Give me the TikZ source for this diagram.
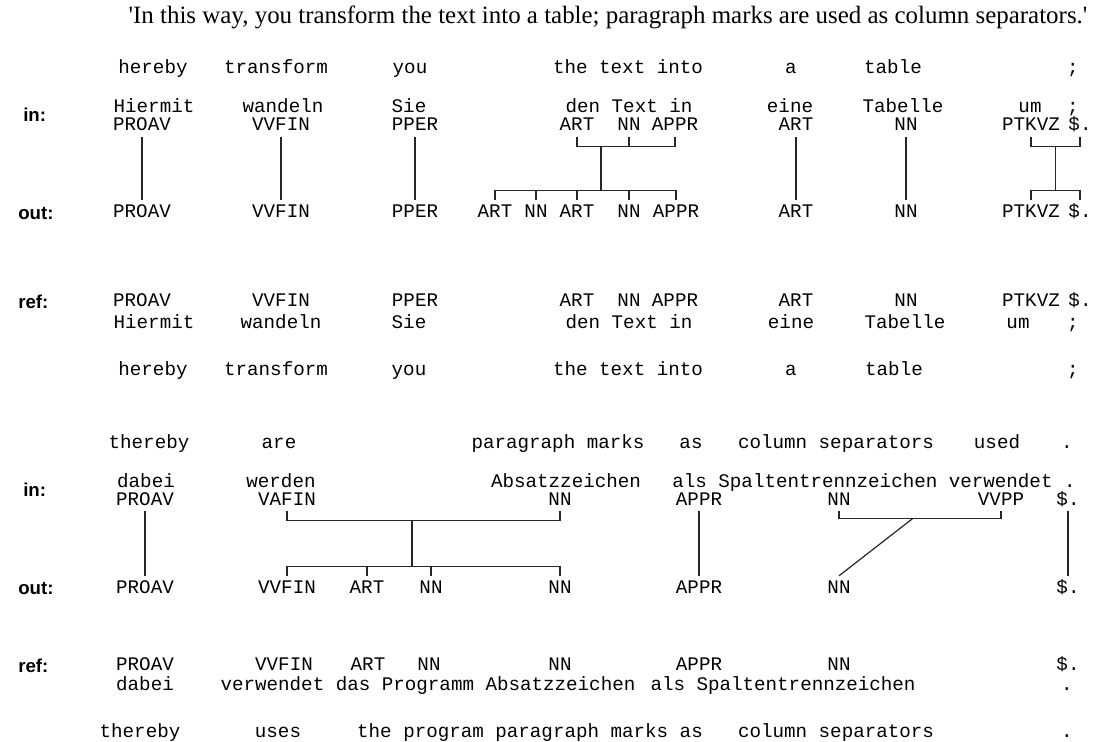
\documentclass[tikz,border=0pt]{standalone}
\usepackage{fontspec}
\setmainfont{Liberation Serif}
\setsansfont{Liberation Sans}
\setmonofont{Liberation Mono}
\usetikzlibrary{positioning,calc}

\tikzset{
  px/.style={x=0.75pt,y=-0.75pt},
  word/.style={font=\ttfamily\fontsize{14.4}{16}\selectfont,anchor=base,inner sep=0pt},
  tag/.style={word,text height=8.2pt,text depth=0pt,inner ysep=4.5pt},
  rowlabel/.style={font=\sffamily\bfseries\fontsize{14}{16}\selectfont,anchor=base west,inner sep=0pt},
  link/.style={line width=0.9pt,black!85},
}

\begin{document}
\begin{tikzpicture}[px]
  \useasboundingbox (0,0) rectangle (1111,742);
  % title
  \node[font=\fontsize{18.7}{20}\selectfont] (title) at (608,17)
    {\textquotesingle In this way, you transform the text into a table; paragraph marks are used as column separators.\textquotesingle};

  % ---------- first sentence ----------
  \node[rowlabel] (aIn)  at (23,122) {in:};
  \node[rowlabel] (aOut) at (18,219) {out:};
  \node[rowlabel] (aRef) at (18,308) {ref:};
  % english gloss
  \node[word] (aeHereby)    at (153,74) {hereby};
  \node[word] (aeTransform) at (276,74) {transform};
  \node[word] (aeYou)       at (410,74) {you};
  \node[word] (aeText)      at (628,74) {the text into};
  \node[word] (aeA)         at (791,74) {a};
  \node[word] (aeTable)     at (893,74) {table};
  \node[word] (aeSemi)      at (1073,74) {;};
  % german input
  \node[word] (agHiermit) at (154,113) {Hiermit};
  \node[word] (agWandeln) at (283,113) {wandeln};
  \node[word] (agSie)     at (409,113) {Sie};
  \node[word] (agText)    at (629,113) {den Text in};
  \node[word] (agEine)    at (790,113) {eine};
  \node[word] (agTabelle) at (903,113) {Tabelle};
  \node[word] (agUm)      at (1030,113) {um};
  \node[word] (agSemi)    at (1073,113) {;};
  % in tags
  \node[tag] (aiPROAV) at (142,131) {PROAV};
  \node[tag] (aiVVFIN) at (281,131) {VVFIN};
  \node[tag] (aiPPER)  at (415,131) {PPER};
  \node[tag] (aiART)   at (577,131) {ART};
  \node[tag] (aiNN)    at (629,131) {NN};
  \node[tag] (aiAPPR)  at (675,131) {APPR};
  \node[tag] (aiARTb)  at (796,131) {ART};
  \node[tag] (aiNNb)   at (906,131) {NN};
  \node[tag] (aiPTKVZ) at (1031,131) {PTKVZ};
  \node[tag] (aiPunct) at (1080,131) {\$.};
  % out tags
  \node[tag] (aoPROAV) at (142,217) {PROAV};
  \node[tag] (aoVVFIN) at (281,217) {VVFIN};
  \node[tag] (aoPPER)  at (415,217) {PPER};
  \node[tag] (aoART)   at (495,217) {ART};
  \node[tag] (aoNN)    at (536,217) {NN};
  \node[tag] (aoARTb)  at (577,217) {ART};
  \node[tag] (aoNNb)   at (629,217) {NN};
  \node[tag] (aoAPPR)  at (676,217) {APPR};
  \node[tag] (aoARTc)  at (796,217) {ART};
  \node[tag] (aoNNc)   at (906,217) {NN};
  \node[tag] (aoPTKVZ) at (1031,217) {PTKVZ};
  \node[tag] (aoPunct) at (1080,217) {\$.};
  % ref tags
  \node[tag] (arPROAV) at (142,306) {PROAV};
  \node[tag] (arVVFIN) at (281,306) {VVFIN};
  \node[tag] (arPPER)  at (415,306) {PPER};
  \node[tag] (arART)   at (577,306) {ART};
  \node[tag] (arNN)    at (629,306) {NN};
  \node[tag] (arAPPR)  at (675,306) {APPR};
  \node[tag] (arARTb)  at (796,306) {ART};
  \node[tag] (arNNb)   at (906,306) {NN};
  \node[tag] (arPTKVZ) at (1031,306) {PTKVZ};
  \node[tag] (arPunct) at (1080,306) {\$.};
  % german reference
  \node[word] (argHiermit) at (154,328) {Hiermit};
  \node[word] (argWandeln) at (281,328) {wandeln};
  \node[word] (argSie)     at (409,328) {Sie};
  \node[word] (argText)    at (629,328) {den Text in};
  \node[word] (argEine)    at (791,328) {eine};
  \node[word] (argTabelle) at (905,328) {Tabelle};
  \node[word] (argUm)      at (1018,328) {um};
  \node[word] (argSemi)    at (1073,328) {;};
  % english reference
  \node[word] (areHereby)    at (153,375) {hereby};
  \node[word] (areTransform) at (276,375) {transform};
  \node[word] (areYou)       at (409,375) {you};
  \node[word] (areText)      at (628,375) {the text into};
  \node[word] (areA)         at (791,375) {a};
  \node[word] (areTable)     at (894,375) {table};
  \node[word] (areSemi)      at (1073,375) {;};

  % alignment links
  \draw[link] (aiPROAV.south) -- (aiPROAV.south |- aoPROAV.north);
  \draw[link] (aiVVFIN.south) -- (aiVVFIN.south |- aoVVFIN.north);
  \draw[link] (aiPPER.south) -- (aiPPER.south |- aoPPER.north);
  \draw[link] (aiARTb.south) -- (aiARTb.south |- aoARTc.north);
  \draw[link] (aiNNb.south) -- (aiNNb.south |- aoNNc.north);
  % den Text in -> ART NN ART NN APPR
  \draw[link] (aiART.south) -- ++(0,9) -| (aiAPPR.south);
  \draw[link] (aiNN.south) -- ++(0,9);
  \coordinate (aStem) at ($(aiART.south)+(24,9)$);
  \draw[link] (aStem) -- ($(aStem |- aoART.north)+(0,-9)$);
  \draw[link] (aoART.north) -- ++(0,-9) -| (aoAPPR.north);
  \draw[link] (aoNN.north) -- ++(0,-9);
  \draw[link] (aoARTb.north) -- ++(0,-9);
  \draw[link] (aoNNb.north) -- ++(0,-9);
  % um ; -> PTKVZ $.
  \draw[link] (aiPTKVZ.south) -- ++(0,9) -| (aiPunct.south);
  \coordinate (aStemB) at ($(aiPTKVZ.south)!0.5!(aiPunct.south)+(0,9)$);
  \draw[link] (aStemB) -- ($(aStemB |- aoPTKVZ.north)+(0,-9)$);
  \draw[link] (aoPTKVZ.north) -- ++(0,-9) -| (aoPunct.north);

  % ---------- second sentence ----------
  \node[rowlabel] (bIn)  at (23,496) {in:};
  \node[rowlabel] (bOut) at (18,594) {out:};
  \node[rowlabel] (bRef) at (18,672) {ref:};
  % english gloss
  \node[word] (beThereby) at (149,448) {thereby};
  \node[word] (beAre)     at (279,448) {are};
  \node[word] (beMarks)   at (558,448) {paragraph marks};
  \node[word] (beAs)      at (691,448) {as};
  \node[word] (beSep)     at (836,448) {column separators};
  \node[word] (beUsed)    at (997,448) {used};
  \node[word] (beDot)     at (1067,448) {.};
  % german input
  \node[word] (bgDabei)   at (146,487) {dabei};
  \node[word] (bgWerden)  at (281,487) {werden};
  \node[word] (bgAbsatz)  at (566,487) {Absatzzeichen};
  \node[word] (bgRest)    at (874,487) {als Spaltentrennzeichen verwendet .};
  % in tags
  \node[tag] (biPROAV) at (145,505) {PROAV};
  \node[tag] (biVAFIN) at (287,505) {VAFIN};
  \node[tag] (biNN)    at (560,505) {NN};
  \node[tag] (biAPPR)  at (699,505) {APPR};
  \node[tag] (biNNb)   at (839,505) {NN};
  \node[tag] (biVVPP)  at (1001,505) {VVPP};
  \node[tag] (biPunct) at (1068,505) {\$.};
  % out tags
  \node[tag] (boPROAV) at (145,593) {PROAV};
  \node[tag] (boVVFIN) at (287,593) {VVFIN};
  \node[tag] (boART)   at (367,593) {ART};
  \node[tag] (boNN)    at (431,593) {NN};
  \node[tag] (boNNb)   at (560,593) {NN};
  \node[tag] (boAPPR)  at (699,593) {APPR};
  \node[tag] (boNNc)   at (839,593) {NN};
  \node[tag] (boPunct) at (1068,593) {\$.};
  % ref tags
  \node[tag] (brPROAV) at (145,670) {PROAV};
  \node[tag] (brVVFIN) at (284,670) {VVFIN};
  \node[tag] (brART)   at (368,670) {ART};
  \node[tag] (brNN)    at (429,670) {NN};
  \node[tag] (brNNb)   at (560,670) {NN};
  \node[tag] (brAPPR)  at (699,670) {APPR};
  \node[tag] (brNNc)   at (839,670) {NN};
  \node[tag] (brPunct) at (1068,670) {\$.};
  % german reference
  \node[word] (brgDabei) at (145,690) {dabei};
  \node[word] (brgVerw)  at (428,690) {verwendet das Programm Absatzzeichen};
  \node[word] (brgSpalt) at (783,690) {als Spaltentrennzeichen};
  \node[word] (brgDot)   at (1067,690) {.};
  % english reference
  \node[word] (breThereby) at (140,737) {thereby};
  \node[word] (breUses)    at (278,737) {uses};
  \node[word] (breMarks)   at (530,737) {the program paragraph marks as};
  \node[word] (breSep)     at (836,737) {column separators};
  \node[word] (breDot)     at (1067,737) {.};

  % alignment links
  \draw[link] (biPROAV.south) -- (biPROAV.south |- boPROAV.north);
  \draw[link] (biAPPR.south) -- (biAPPR.south |- boAPPR.north);
  \draw[link] (biPunct.south) -- (biPunct.south |- boPunct.north);
  % werden Absatzzeichen -> VVFIN ART NN NN
  \draw[link] (biVAFIN.south) -- ++(0,9) -| (biNN.south);
  \coordinate (bStem) at ($(biVAFIN.south)+(125,9)$);
  \draw[link] (bStem) -- ($(bStem |- boVVFIN.north)+(0,-9)$);
  \draw[link] (boVVFIN.north) -- ++(0,-9) -| (boNNb.north);
  \draw[link] (boART.north) -- ++(0,-9);
  \draw[link] (boNN.north) -- ++(0,-9);
  % Spaltentrennzeichen verwendet -> NN
  \draw[link] (biNNb.south) -- ++(0,7) -| (biVVPP.south);
  \draw[link] ($(biNNb.south)+(74,7)$) -- (boNNc.north);
\end{tikzpicture}
\end{document}
